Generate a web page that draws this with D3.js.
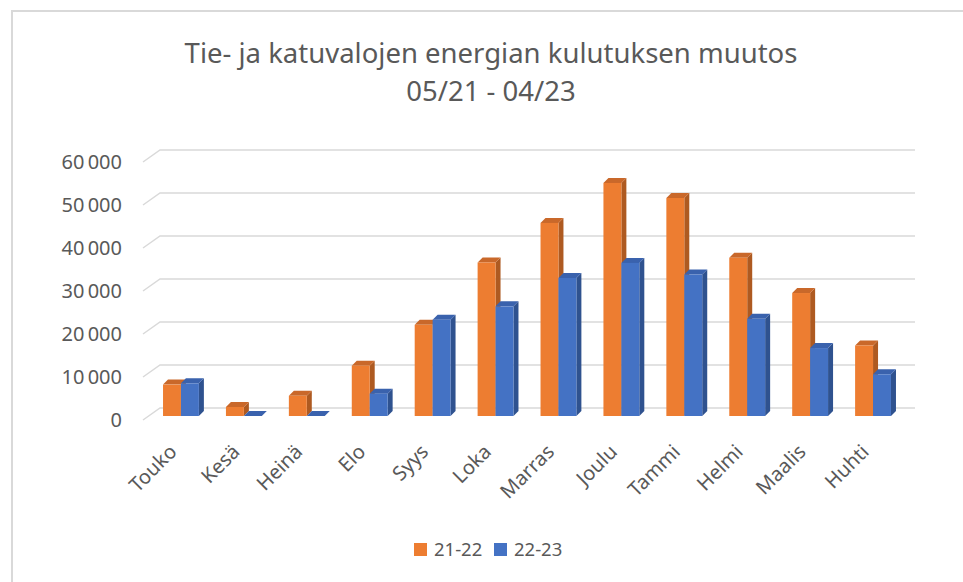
<!DOCTYPE html>
<html>
<head>
<meta charset="utf-8">
<script src="https://cdn.jsdelivr.net/npm/d3@7"></script>
<style>
  body { margin: 0; background: #fff; }
  text { font-family: "Noto Sans", "Open Sans", sans-serif; fill: #595959; }
</style>
</head>
<body>
<div id="chart"></div>
<script>
var months = ["Touko", "Kesä", "Heinä", "Elo", "Syys", "Loka", "Marras", "Joulu", "Tammi", "Helmi", "Maalis", "Huhti"];
var seriesNames = ["21-22", "22-23"];
var values2122 = [7300, 2100, 4700, 11700, 21200, 35700, 44900, 54200, 50700, 36800, 28600, 16400];
var values2223 = [7600, 0, 0, 5200, 22400, 25500, 32100, 35600, 32900, 22600, 15800, 9700];
var yTicks = [0, 10000, 20000, 30000, 40000, 50000, 60000];
var titleLines = ["Tie- ja katuvalojen energian kulutuksen muutos", "05/21 - 04/23"];

var width = 963, height = 582;
var colors = {
    "21-22": { front: "#ED7D31", side: "#AE5A21", top: "#C9682A" },
    "22-23": { front: "#4472C4", side: "#2F528F", top: "#3A62AD" }
};
var depthX = 5, depthY = -5;     // bar side / top offset
var backDx = 17, backDy = -12;   // floor depth (front edge -> back wall)
var barToBack = -8;              // bar front plane -> back wall, in y

var svg = d3.select("#chart").append("svg")
    .attr("width", width)
    .attr("height", height);

// chart frame
svg.append("rect")
    .attr("x", 12).attr("y", 11)
    .attr("width", 1000).attr("height", 700)
    .attr("fill", "none")
    .attr("stroke", "#D9D9D9")
    .attr("stroke-width", 2);

// title
svg.selectAll(".title")
    .data(titleLines)
    .enter()
    .append("text")
    .attr("class", "title")
    .attr("x", 491)
    .attr("y", function(d, i) { return 63 + i * 38; })
    .attr("text-anchor", "middle")
    .style("font-size", "27.5px")
    .text(function(d) { return d; });

var x0 = d3.scaleBand()
    .domain(months)
    .range([149.5, 904.5])
    .paddingInner(0.43)
    .paddingOuter(0.215);

var x1 = d3.scaleBand()
    .domain(seriesNames)
    .range([0, x0.bandwidth()]);

// y for the bars' front plane
var y = d3.scaleLinear()
    .domain([0, 60000])
    .range([416, 158]);

var fmt = function(v) { return d3.format(",")(v).replace(/,/g, "\u2009"); };

// gridlines on back wall with floor diagonal
var grid = svg.append("g").attr("class", "grid");
yTicks.forEach(function(t) {
    var yb = y(t) + barToBack;
    grid.append("path")
        .attr("d", "M" + (160 - backDx) + "," + (yb - backDy) + "L160," + yb + "L915," + yb)
        .attr("fill", "none")
        .attr("stroke", "#D9D9D9")
        .attr("stroke-width", 1.5);
});

// y labels
svg.selectAll(".ylabel")
    .data(yTicks)
    .enter()
    .append("text")
    .attr("class", "ylabel")
    .attr("x", 122)
    .attr("y", function(d) { return y(d) + barToBack - backDy + 7; })
    .attr("text-anchor", "end")
    .style("font-size", "20px")
    .text(fmt);

// bars
var data = [];
months.forEach(function(m, i) {
    data.push({ month: m, series: "21-22", value: values2122[i] });
    data.push({ month: m, series: "22-23", value: values2223[i] });
});

var bars = svg.selectAll(".bar")
    .data(data)
    .enter()
    .append("g")
    .attr("class", "bar");

bars.each(function(d) {
    var g = d3.select(this);
    var xl = x0(d.month) + x1(d.series);
    var xr = xl + x1.bandwidth();
    var yt = y(d.value);
    var yb = y(0);
    var c = colors[d.series];
    g.append("path")
        .attr("d", "M" + xr + "," + yt + "L" + (xr + depthX) + "," + (yt + depthY) +
            "L" + (xr + depthX) + "," + (yb + depthY) + "L" + xr + "," + yb + "Z")
        .attr("fill", c.side);
    g.append("path")
        .attr("d", "M" + xl + "," + yt + "L" + (xl + depthX) + "," + (yt + depthY) +
            "L" + (xr + depthX) + "," + (yt + depthY) + "L" + xr + "," + yt + "Z")
        .attr("fill", c.top);
    g.append("rect")
        .attr("x", xl)
        .attr("y", yt)
        .attr("width", x1.bandwidth())
        .attr("height", yb - yt)
        .attr("fill", c.front);
});

// month labels
svg.selectAll(".xlabel")
    .data(months)
    .enter()
    .append("text")
    .attr("class", "xlabel")
    .attr("text-anchor", "end")
    .attr("transform", function(d) {
        return "translate(" + (x0(d) + x0.bandwidth() / 2 - 3) + ",453) rotate(-45)";
    })
    .style("font-size", "20px")
    .text(function(d) { return d; });

// legend
var legend = svg.append("g").attr("class", "legend");
var lx = [414, 494];
seriesNames.forEach(function(s, i) {
    legend.append("rect")
        .attr("x", lx[i]).attr("y", 543)
        .attr("width", 13).attr("height", 13)
        .attr("fill", colors[s].front);
    legend.append("text")
        .attr("x", lx[i] + 20).attr("y", 556)
        .style("font-size", "18.5px")
        .text(s);
});
</script>
</body>
</html>
